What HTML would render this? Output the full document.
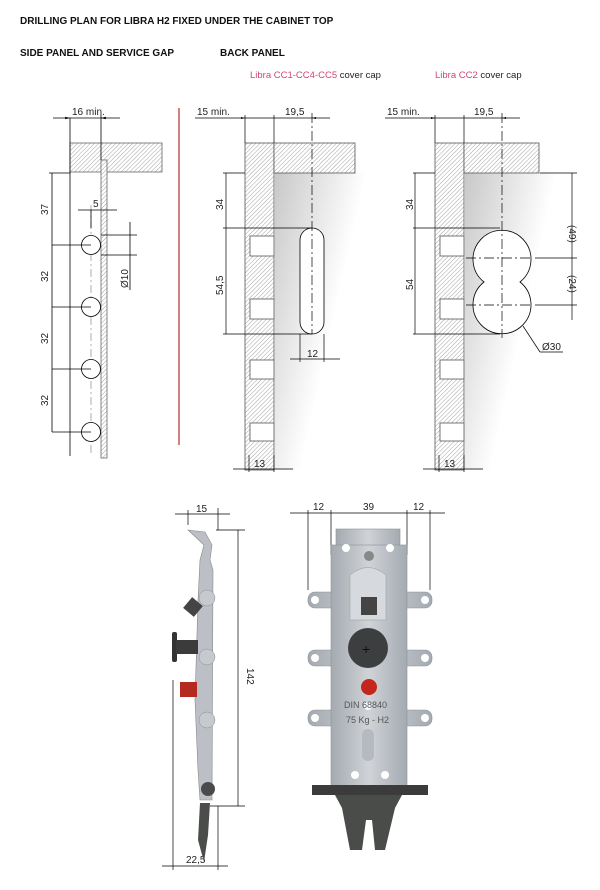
<!DOCTYPE html>
<html><head><meta charset="utf-8"><style>
body{margin:0;background:#fff;}
svg{display:block;font-family:"Liberation Sans",sans-serif;}
.d{font-size:10px;fill:#222;}
</style></head><body>
<svg width="600" height="890" viewBox="0 0 600 890">
<defs>
<pattern id="h" width="3" height="3" patternUnits="userSpaceOnUse" patternTransform="rotate(45)">
<rect width="3" height="3" fill="#fff"/><line x1="0" y1="0" x2="0" y2="3" stroke="#999" stroke-width="0.9"/></pattern>
<linearGradient id="g" x1="0" y1="0" x2="1" y2="0.7">
<stop offset="0" stop-color="#c8c8c8"/><stop offset="0.65" stop-color="#fff"/></linearGradient>
<linearGradient id="m" x1="0" y1="0" x2="1" y2="0">
<stop offset="0" stop-color="#a4aab1"/><stop offset="0.5" stop-color="#d0d3d7"/><stop offset="1" stop-color="#a4aab1"/></linearGradient>
<marker id="a" markerWidth="6" markerHeight="6" refX="6" refY="3" orient="auto"><path d="M0,1.5L6,3L0,4.5z" fill="#000"/></marker>
</defs>
<g font-weight="bold" font-size="10" fill="#111">
<text x="20" y="24">DRILLING PLAN FOR LIBRA H2 FIXED UNDER THE CABINET TOP</text>
<text x="20" y="56">SIDE PANEL AND SERVICE GAP</text>
<text x="220" y="56">BACK PANEL</text>
</g>
<text x="250" y="78" font-size="9.5" fill="#d0457a">Libra CC1-CC4-CC5 <tspan fill="#222">cover cap</tspan></text>
<text x="435" y="78" font-size="9.5" fill="#d0457a">Libra CC2 <tspan fill="#222">cover cap</tspan></text>

<!-- LEFT -->
<g stroke="#000" stroke-width="0.8" fill="none">
<rect x="70" y="143" width="92" height="29" fill="url(#h)" stroke="#666"/>
<rect x="101" y="160" width="6" height="298" fill="url(#h)" stroke="#666"/>
<line x1="70" y1="143" x2="70" y2="456"/>
<line x1="91" y1="205" x2="91" y2="455" stroke="#999" stroke-dasharray="8,3,2,3"/>
<circle cx="91" cy="245" r="9.5" fill="#fff"/><circle cx="91" cy="307" r="9.5" fill="#fff"/>
<circle cx="91" cy="369" r="9.5" fill="#fff"/><circle cx="91" cy="432" r="9.5" fill="#fff"/>
<line x1="70" y1="118" x2="70" y2="143"/><line x1="101" y1="115" x2="101" y2="160"/>
<line x1="53" y1="118" x2="70" y2="118" marker-end="url(#a)"/><line x1="120" y1="118" x2="101" y2="118" marker-end="url(#a)"/>
<line x1="70" y1="118" x2="101" y2="118"/>
<line x1="49" y1="173" x2="70" y2="173"/>
<line x1="52" y1="173" x2="52" y2="432"/>
<line x1="52" y1="245" x2="91" y2="245"/><line x1="52" y1="307" x2="91" y2="307"/><line x1="52" y1="369" x2="91" y2="369"/><line x1="52" y1="432" x2="91" y2="432"/>
<line x1="91" y1="228" x2="91" y2="210"/><line x1="78" y1="210" x2="117" y2="210"/>
<line x1="101" y1="235" x2="137" y2="235"/><line x1="101" y1="255" x2="137" y2="255"/>
<line x1="130" y1="222" x2="130" y2="290"/>
</g>
<line x1="179" y1="108" x2="179" y2="445" stroke="#a00" stroke-width="1"/>
<text class="d" x="72" y="115">16 min.</text>
<text class="d" x="93" y="207">5</text>
<g class="d"><text transform="translate(48,215) rotate(-90)">37</text>
<text transform="translate(48,282) rotate(-90)">32</text>
<text transform="translate(48,344) rotate(-90)">32</text>
<text transform="translate(48,406) rotate(-90)">32</text>
<text transform="translate(128,288) rotate(-90)">Ø10</text></g>

<!-- MIDDLE -->
<rect x="275" y="173" width="95" height="297" fill="url(#g)"/>
<g stroke="#555" stroke-width="0.8">
<rect x="245" y="143" width="29" height="327" fill="url(#h)"/>
<rect x="274" y="143" width="81" height="30" fill="url(#h)"/>
<g fill="#fff"><rect x="250" y="236" width="24" height="20"/><rect x="250" y="299" width="24" height="20"/><rect x="250" y="360" width="24" height="19"/><rect x="250" y="423" width="24" height="18"/></g>
<rect x="300" y="228" width="24" height="106" rx="12" fill="#fff" stroke="#000"/>
</g>
<g stroke="#000" stroke-width="0.7" fill="none">
<line x1="312" y1="113" x2="312" y2="334" stroke-dasharray="10,3,2,3"/>
<line x1="245" y1="115" x2="245" y2="143"/><line x1="274" y1="115" x2="274" y2="143"/>
<line x1="195" y1="118" x2="245" y2="118" marker-end="url(#a)"/><line x1="245" y1="118" x2="312" y2="118"/><line x1="330" y1="118" x2="312" y2="118" marker-end="url(#a)"/>
<line x1="223" y1="173" x2="245" y2="173"/><line x1="223" y1="228" x2="312" y2="228"/><line x1="223" y1="334" x2="312" y2="334"/>
<line x1="226" y1="173" x2="226" y2="334"/>
<line x1="300" y1="334" x2="300" y2="362"/><line x1="324" y1="334" x2="324" y2="362"/>
<line x1="290" y1="359" x2="340" y2="359"/>
<line x1="249" y1="455" x2="249" y2="472"/><line x1="274" y1="455" x2="274" y2="472"/>
<line x1="233" y1="469" x2="293" y2="469"/>
</g>
<text class="d" x="197" y="115">15 min.</text><text class="d" x="285" y="115">19,5</text>
<text class="d" transform="translate(223,210) rotate(-90)">34</text>
<text class="d" transform="translate(223,295) rotate(-90)">54,5</text>
<text class="d" x="307" y="357">12</text><text class="d" x="254" y="467">13</text>

<!-- RIGHT -->
<rect x="465" y="173" width="95" height="297" fill="url(#g)"/>
<g stroke="#555" stroke-width="0.8">
<rect x="435" y="143" width="29" height="327" fill="url(#h)"/>
<rect x="464" y="143" width="75" height="30" fill="url(#h)"/>
<g fill="#fff"><rect x="440" y="236" width="24" height="20"/><rect x="440" y="299" width="24" height="20"/><rect x="440" y="360" width="24" height="19"/><rect x="440" y="423" width="24" height="18"/></g>
<path d="M484,282 A29,29 0 1 1 520,282 A29,29 0 1 1 484,282 Z" fill="#fff" stroke="#000"/>
</g>
<g stroke="#000" stroke-width="0.7" fill="none">
<line x1="502" y1="113" x2="502" y2="338" stroke-dasharray="10,3,2,3"/>
<line x1="466" y1="258" x2="530" y2="258" stroke-dasharray="10,3,2,3"/><line x1="466" y1="305" x2="530" y2="305" stroke-dasharray="10,3,2,3"/>
<line x1="435" y1="115" x2="435" y2="143"/><line x1="464" y1="115" x2="464" y2="143"/>
<line x1="385" y1="118" x2="435" y2="118" marker-end="url(#a)"/><line x1="435" y1="118" x2="502" y2="118"/><line x1="520" y1="118" x2="502" y2="118" marker-end="url(#a)"/>
<line x1="413" y1="173" x2="435" y2="173"/><line x1="413" y1="228" x2="500" y2="228"/><line x1="413" y1="334" x2="500" y2="334"/>
<line x1="415" y1="173" x2="415" y2="334"/>
<line x1="540" y1="173" x2="577" y2="173"/><line x1="535" y1="258" x2="577" y2="258"/><line x1="535" y1="305" x2="577" y2="305"/>
<line x1="572" y1="173" x2="572" y2="320"/>
<line x1="523" y1="326" x2="540" y2="352"/><line x1="540" y1="352" x2="563" y2="352"/>
<line x1="439" y1="455" x2="439" y2="472"/><line x1="464" y1="455" x2="464" y2="472"/>
<line x1="423" y1="469" x2="483" y2="469"/>
</g>
<text class="d" x="387" y="115">15 min.</text><text class="d" x="474" y="115">19,5</text>
<text class="d" transform="translate(413,210) rotate(-90)">34</text>
<text class="d" transform="translate(413,290) rotate(-90)">54</text>
<text class="d" transform="translate(569,225) rotate(90)">(49)</text>
<text class="d" transform="translate(569,275) rotate(90)">(24)</text>
<text class="d" x="542" y="350">Ø30</text><text class="d" x="444" y="467">13</text>

<!-- BOTTOM SIDE VIEW -->
<g stroke="#000" stroke-width="0.7" fill="none">
<line x1="175" y1="514" x2="230" y2="514"/><line x1="188" y1="510" x2="188" y2="525"/><line x1="218" y1="508" x2="218" y2="530"/>
<line x1="216" y1="530" x2="245" y2="530"/><line x1="210" y1="806" x2="245" y2="806"/>
<line x1="238" y1="530" x2="238" y2="806"/>
<line x1="173" y1="680" x2="173" y2="870"/><line x1="218" y1="806" x2="218" y2="870"/>
<line x1="162" y1="866" x2="228" y2="866"/>
</g>
<text class="d" x="196" y="512">15</text>
<text class="d" transform="translate(247,668) rotate(90)">142</text>
<text class="d" x="186" y="863">22,5</text>
<path d="M188,530 L205,532 L212,545 L210,560 L213,570 L212,800 L200,800 L198,770 L195,700 L198,600 L200,560 L204,545 Z" fill="#bcc0c6" stroke="#888" stroke-width="0.6"/>
<g fill="#c6cacf" stroke="#8a8f96" stroke-width="0.5"><circle cx="207" cy="598" r="8"/><circle cx="207" cy="657" r="8"/><circle cx="207" cy="720" r="8"/></g>
<rect x="186" y="600" width="14" height="14" fill="#444" transform="rotate(40 193 607)"/>
<rect x="172" y="632" width="5" height="30" rx="2" fill="#333"/><rect x="176" y="640" width="22" height="14" fill="#3b3b3b"/>
<rect x="180" y="682" width="17" height="15" fill="#b52a20"/>
<circle cx="208" cy="789" r="7" fill="#4a4a4a"/>
<path d="M200,803 L210,803 L208,835 L204,862 L198,840 Z" fill="#4b4d4b"/>

<!-- BOTTOM FRONT VIEW -->
<g stroke="#000" stroke-width="0.7" fill="none">
<line x1="290" y1="513" x2="445" y2="513"/>
<line x1="308" y1="510" x2="308" y2="590"/><line x1="331" y1="510" x2="331" y2="555"/>
<line x1="407" y1="510" x2="407" y2="555"/><line x1="430" y1="510" x2="430" y2="590"/>
</g>
<text class="d" x="313" y="510">12</text><text class="d" x="363" y="510">39</text><text class="d" x="413" y="510">12</text>
<g fill="url(#m)" stroke="#8d939a" stroke-width="0.6">
<rect x="308" y="592" width="124" height="16" rx="7"/>
<rect x="308" y="650" width="124" height="16" rx="7"/>
<rect x="308" y="710" width="124" height="16" rx="7"/>
<rect x="336" y="529" width="64" height="20"/>
<rect x="331" y="545" width="76" height="245"/>
</g>
<path d="M350,620 L350,575 Q368,560 386,575 L386,620 Z" fill="#d6d9dd" stroke="#999" stroke-width="0.5"/>
<g fill="#fff"><circle cx="346" cy="548" r="4"/><circle cx="390" cy="548" r="4"/><circle cx="315" cy="600" r="4"/><circle cx="425" cy="600" r="4"/><circle cx="315" cy="658" r="4"/><circle cx="425" cy="658" r="4"/><circle cx="315" cy="718" r="4"/><circle cx="425" cy="718" r="4"/><circle cx="355" cy="775" r="4"/><circle cx="385" cy="775" r="4"/><circle cx="368" cy="706" r="4"/></g>
<circle cx="369" cy="556" r="5" fill="#888"/>
<rect x="361" y="597" width="16" height="18" fill="#444"/>
<circle cx="368" cy="648" r="20" fill="#3d3e3f"/>
<text x="362" y="654" font-size="14" fill="#111">+</text>
<circle cx="369" cy="687" r="8" fill="#c2261c"/>
<text x="344" y="708" font-size="9" fill="#555">DIN 68840</text>
<text x="346" y="723" font-size="9" fill="#555">75 Kg - H2</text>
<rect x="362" y="729" width="12" height="32" rx="6" fill="#b5bac0"/>
<rect x="312" y="785" width="116" height="10" fill="#3a3b3a"/>
<path d="M335,795 L402,795 L395,808 L385,850 L375,850 L372,820 L366,820 L362,850 L350,850 L342,808 Z" fill="#4a4c4a"/>
</svg>
</body></html>
